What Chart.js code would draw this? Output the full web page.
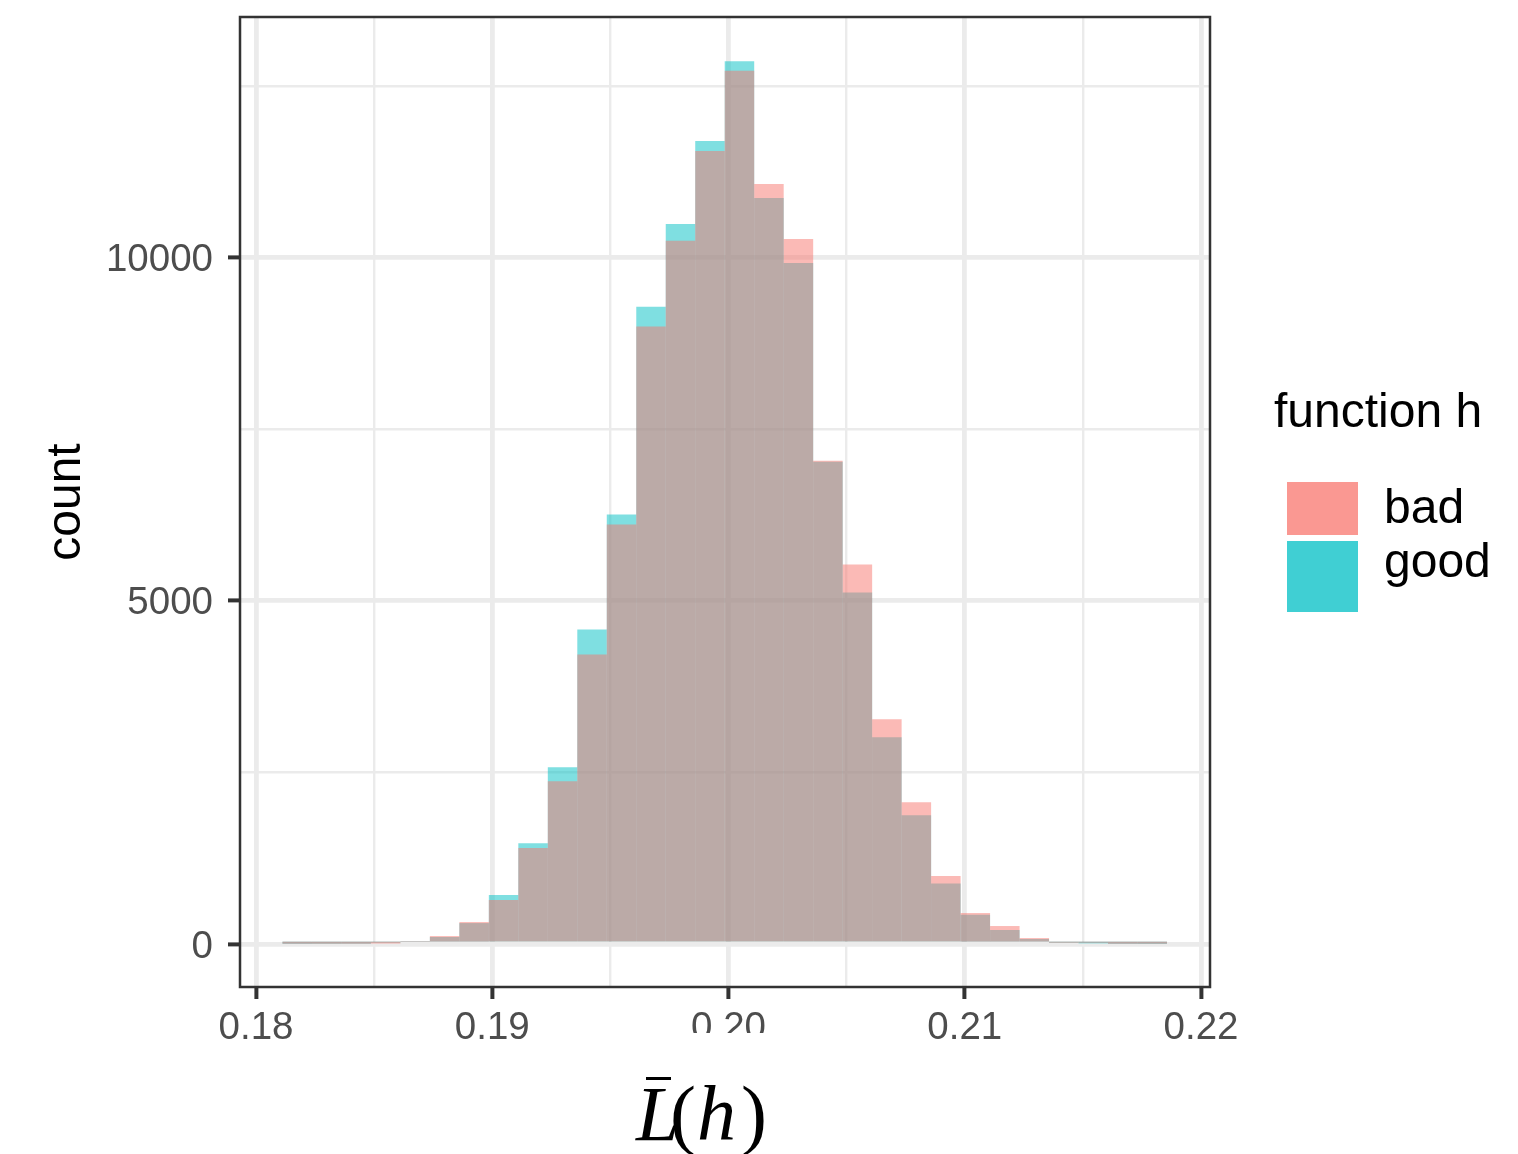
<!DOCTYPE html>
<html lang="en">
<head>
    <meta charset="UTF-8">
    <title>Histogram of L̄(h) by function h</title>
    <script src="https://cdn.jsdelivr.net/npm/chart.js"></script>
    <style>
        html, body {
            margin: 0;
            padding: 0;
            background: #ffffff;
        }
        .chart-wrapper {
            width: 1518px;
            height: 1154px;
        }
    </style>
</head>
<body>
    <div class="chart-wrapper">
        <canvas id="lossHistogram" width="1518" height="1154"></canvas>
    </div>

    <script>
        // 30 bins, centres on the L-bar axis
        const binCenters = [0.181744, 0.182992, 0.184240, 0.185488, 0.186736, 0.187984,
                            0.189232, 0.190480, 0.191728, 0.192976, 0.194224, 0.195472,
                            0.196720, 0.197968, 0.199216, 0.200464, 0.201712, 0.202960,
                            0.204208, 0.205456, 0.206704, 0.207952, 0.209200, 0.210448,
                            0.211696, 0.212944, 0.214192, 0.215440, 0.216688, 0.217936];

        const badCounts  = [5, 5, 5, 8, 44, 116, 320, 640, 1400, 2371, 4219, 6110,
                            8995, 10245, 11551, 12720, 11071, 10271, 7041, 5528, 3273, 2066,
                            990, 451, 262, 87, 19, 19, 5, 5];
        const goodCounts = [4, 5, 6, 20, 44, 102, 305, 713, 1469, 2575, 4582, 6255,
                            9281, 10489, 11696, 12860, 10867, 9921, 7026, 5121, 3011, 1877,
                            880, 426, 204, 73, 19, 10, 4, 3];

        const seriesNames = ['bad', 'good'];
        const legendTitle = 'function h';
        const yTitle = 'count';

        const xTicks = [0.18, 0.185, 0.19, 0.195, 0.20, 0.205, 0.21, 0.215, 0.22];
        const xTickLabels = ['0.18', '', '0.19', '', '0.20', '', '0.21', '', '0.22'];
        const yTicks = [0, 2500, 5000, 7500, 10000, 12500];
        const yTickLabels = ['0', '', '5000', '', '10000', ''];

        const barColors = ['rgba(248, 118, 109, 0.5)', 'rgba(0, 191, 196, 0.5)'];
        const keyColors = ['rgba(248, 118, 109, 0.75)', 'rgba(0, 191, 196, 0.75)'];

        Chart.defaults.font.family = '"Liberation Sans", Arial, sans-serif';

        // panel outline, drawn over the bars
        const panelBorder = {
            id: 'panelBorder',
            afterDatasetsDraw(chart) {
                const {ctx, chartArea: a} = chart;
                ctx.save();
                ctx.strokeStyle = '#333333';
                ctx.lineWidth = 2.5;
                ctx.strokeRect(a.left, a.top, a.right - a.left, a.bottom - a.top);
                ctx.restore();
            }
        };

        // x title: italic L with a bar, upright brackets, italic h
        const xTitle = {
            id: 'xTitle',
            afterDraw(chart) {
                const {ctx, chartArea: a} = chart;
                const x0 = (a.left + a.right) / 2 - 89;
                const base = a.bottom + 153;
                ctx.save();
                // title is set on an opaque box
                ctx.fillStyle = '#ffffff';
                ctx.fillRect(x0 - 6, a.bottom + 46, 148, 130);
                ctx.fillStyle = '#000000';
                ctx.textBaseline = 'alphabetic';
                ctx.textAlign = 'left';
                ctx.font = 'italic 78px "Liberation Serif", "DejaVu Serif", serif';
                ctx.fillText('L', x0, base);
                ctx.fillText('h', x0 + 61, base);
                ctx.font = '78px "Liberation Serif", "DejaVu Serif", serif';
                ctx.fillText('(', x0 + 34, base);
                ctx.fillText(')', x0 + 105, base);
                ctx.fillRect(x0 + 10, base - 63, 25, 3);
                ctx.restore();
            }
        };

        // legend on the right of the panel
        const sideLegend = {
            id: 'sideLegend',
            afterDraw(chart) {
                const {ctx, chartArea: a} = chart;
                const lx = a.right + 64;
                ctx.save();
                ctx.fillStyle = '#000000';
                ctx.textAlign = 'left';
                ctx.textBaseline = 'alphabetic';
                ctx.font = '48px "Liberation Sans", Arial, sans-serif';
                ctx.fillText(legendTitle, lx, 427);

                const keyTop = [482, 541];
                const keyHeight = [53, 71];
                const textBase = [523, 577];
                seriesNames.forEach((name, i) => {
                    ctx.fillStyle = keyColors[i];
                    ctx.fillRect(lx + 13, keyTop[i], 71, keyHeight[i]);
                    ctx.fillStyle = '#000000';
                    ctx.fillText(name, lx + 110, textBase[i]);
                });
                ctx.restore();
            }
        };

        const countsBySeries = [badCounts, goodCounts];

        new Chart(document.getElementById('lossHistogram').getContext('2d'), {
            type: 'bar',
            data: {
                datasets: seriesNames.map((name, i) => ({
                    label: name,
                    data: binCenters.map((x, j) => ({x: x, y: countsBySeries[i][j]})),
                    backgroundColor: barColors[i],
                    borderWidth: 0,
                    inflateAmount: 0,
                    grouped: false,
                    barPercentage: 1,
                    categoryPercentage: 1
                }))
            },
            options: {
                responsive: false,
                animation: false,
                events: [],
                layout: {
                    padding: {top: 17, right: 308, bottom: 0, left: 0}
                },
                plugins: {
                    legend: {display: false},
                    tooltip: {enabled: false}
                },
                scales: {
                    x: {
                        type: 'linear',
                        offset: false,
                        min: 0.179323,
                        max: 0.220381,
                        afterBuildTicks: s => { s.ticks = xTicks.map(v => ({value: v})); },
                        afterFit: s => {
                            s.height = 167;
                            s.paddingLeft = 0;
                            s.paddingRight = 0;
                        },
                        border: {display: false},
                        grid: {
                            offset: false,
                            color: '#EBEBEB',
                            lineWidth: c => xTickLabels[c.index] ? 4.8 : 2.4,
                            tickColor: c => xTickLabels[c.index] ? '#333333' : 'rgba(0,0,0,0)',
                            tickWidth: 4,
                            tickLength: 12
                        },
                        ticks: {
                            autoSkip: false,
                            maxRotation: 0,
                            padding: 6,
                            color: '#4D4D4D',
                            font: {size: 38.5},
                            callback: (v, i) => xTickLabels[i]
                        },
                        title: {display: false}
                    },
                    y: {
                        min: -626,
                        max: 13503,
                        afterBuildTicks: s => { s.ticks = yTicks.map(v => ({value: v})); },
                        afterFit: s => {
                            s.width = 240;
                            s.paddingTop = 0;
                            s.paddingBottom = 0;
                        },
                        border: {display: false},
                        grid: {
                            color: '#EBEBEB',
                            lineWidth: c => yTickLabels[c.index] ? 4.8 : 2.4,
                            tickColor: c => yTickLabels[c.index] ? '#333333' : 'rgba(0,0,0,0)',
                            tickWidth: 4,
                            tickLength: 12
                        },
                        ticks: {
                            autoSkip: false,
                            padding: 15,
                            labelOffset: 3,
                            color: '#4D4D4D',
                            font: {size: 38.5},
                            callback: (v, i) => yTickLabels[i]
                        },
                        title: {
                            display: true,
                            text: yTitle,
                            color: '#000000',
                            font: {size: 48},
                            padding: {top: 38, bottom: 0}
                        }
                    }
                }
            },
            plugins: [panelBorder, xTitle, sideLegend]
        });
    </script>
</body>
</html>
